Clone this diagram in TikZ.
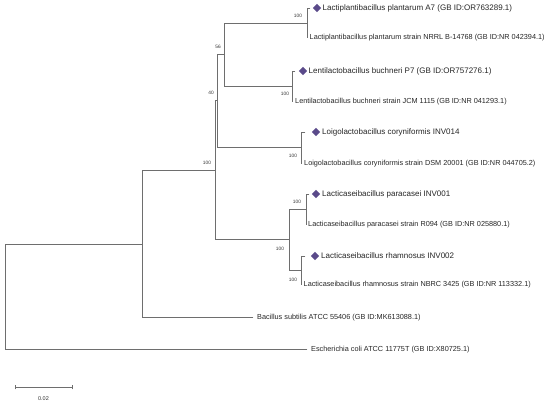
\documentclass[tikz,border=0pt]{standalone}
\usepackage{fontspec}
\setmainfont{Liberation Sans}
\usetikzlibrary{shapes.geometric}
\definecolor{branch}{HTML}{6E6E6E}
\definecolor{markc}{HTML}{5A4A8A}
\begin{document}
\begin{tikzpicture}[x=1pt,y=-1pt,
  br/.style={draw=branch, line width=0.9pt, line cap=rect},
  hl/.style={anchor=west, inner sep=0pt, font=\fontsize{8}{9}\selectfont, text=black!85},
  st/.style={anchor=west, inner sep=0pt, font=\fontsize{7.3}{8.5}\selectfont, text=black!85},
  bs/.style={inner sep=0pt, font=\fontsize{4.8}{5}\selectfont, text=black!80},
  dia/.style={diamond, fill=markc, inner sep=0pt, minimum size=8.5pt}]
\useasboundingbox (0,0) rectangle (550,405);
\fill[white] (0,0) rectangle (550,405);

% internal nodes
\coordinate (R) at (5,296.5);
\coordinate (B) at (142,244);
\coordinate (C) at (215,170);
\coordinate (D) at (217,100);
\coordinate (E) at (224,54);
\coordinate (Lp) at (307,23);
\coordinate (Lb) at (292,86);
\coordinate (Lc) at (301,147.5);
\coordinate (F) at (289,239.5);
\coordinate (G) at (306,209);
\coordinate (H) at (301,270);

% leaves
\coordinate (lp1) at (310,8);
\coordinate (lp2) at (307.4,37);
\coordinate (lb1) at (295,71);
\coordinate (lb2) at (292.4,101);
\coordinate (lc1) at (305,132);
\coordinate (lc2) at (301.4,163);
\coordinate (lg1) at (309,194);
\coordinate (lg2) at (306.4,224);
\coordinate (lh1) at (305,256);
\coordinate (lh2) at (301.4,284);
\coordinate (bac) at (253,317);
\coordinate (eco) at (307,349);

% branches
\draw[br] (R) |- (B);
\draw[br] (R) |- (eco);
\draw[br] (B) |- (C);
\draw[br] (B) |- (bac);
\draw[br] (C) |- (D);
\draw[br] (C) |- (F);
\draw[br] (D) |- (E);
\draw[br] (D) |- (Lc);
\draw[br] (E) |- (Lp);
\draw[br] (E) |- (Lb);
\draw[br] (Lp) |- (lp1);
\draw[br] (Lp) |- (lp2);
\draw[br] (Lb) |- (lb1);
\draw[br] (Lb) |- (lb2);
\draw[br] (Lc) |- (lc1);
\draw[br] (Lc) |- (lc2);
\draw[br] (F) |- (G);
\draw[br] (F) |- (H);
\draw[br] (G) |- (lg1);
\draw[br] (G) |- (lg2);
\draw[br] (H) |- (lh1);
\draw[br] (H) |- (lh2);

% diamonds and labels
\node[dia] (d1) at (317,8) {};
\node[hl] (t1) at (322.5,8) {Lactiplantibacillus plantarum A7 (GB ID:OR763289.1)};
\node[st] (t2) at (309.5,37.5) {Lactiplantibacillus plantarum strain NRRL B-14768 (GB ID:NR 042394.1)};
\node[dia] (d3) at (303,71) {};
\node[hl] (t3) at (308.5,71) {Lentilactobacillus buchneri P7 (GB ID:OR757276.1)};
\node[st] (t4) at (295,101.5) {Lentilactobacillus buchneri strain JCM 1115 (GB ID:NR 041293.1)};
\node[dia] (d5) at (316,132) {};
\node[hl] (t5) at (322,132) {Loigolactobacillus coryniformis INV014};
\node[st] (t6) at (304,163.5) {Loigolactobacillus coryniformis strain DSM 20001 (GB ID:NR 044705.2)};
\node[dia] (d7) at (316,194) {};
\node[hl] (t7) at (322,194) {Lacticaseibacillus paracasei INV001};
\node[st] (t8) at (308,225) {Lacticaseibacillus paracasei strain R094 (GB ID:NR 025880.1)};
\node[dia] (d9) at (315,256) {};
\node[hl] (t9) at (321,256) {Lacticaseibacillus rhamnosus INV002};
\node[st] (t10) at (303.5,285) {Lacticaseibacillus rhamnosus strain NBRC 3425 (GB ID:NR 113332.1)};
\node[st] (t11) at (257,317.5) {Bacillus subtilis ATCC 55406 (GB ID:MK613088.1)};
\node[st] (t12) at (311,349.5) {Escherichia coli ATCC 11775T (GB ID:X80725.1)};

% bootstrap values
\node[bs] (bE) at (218,47) {56};
\node[bs] (bD) at (211,93) {40};
\node[bs] (bC) at (207,163) {100};
\node[bs] (bLp) at (298,16) {100};
\node[bs] (bLb) at (285,94) {100};
\node[bs] (bLc) at (293,156) {100};
\node[bs] (bF) at (280,249) {100};
\node[bs] (bG) at (297,202) {100};
\node[bs] (bH) at (293,280) {100};

% scale bar
\coordinate (s1) at (15,387);
\coordinate (s2) at (72,387);
\draw[br, line width=0.8pt] (s1) -- (s2);
\draw[br, line width=0.7pt] ([yshift=-2pt]s1) -- ([yshift=2pt]s1);
\draw[br, line width=0.7pt] ([yshift=-2pt]s2) -- ([yshift=2pt]s2);
\node[bs, font=\fontsize{5.5}{6}\selectfont] (sl) at (43.5,399) {0.02};
\end{tikzpicture}
\end{document}
